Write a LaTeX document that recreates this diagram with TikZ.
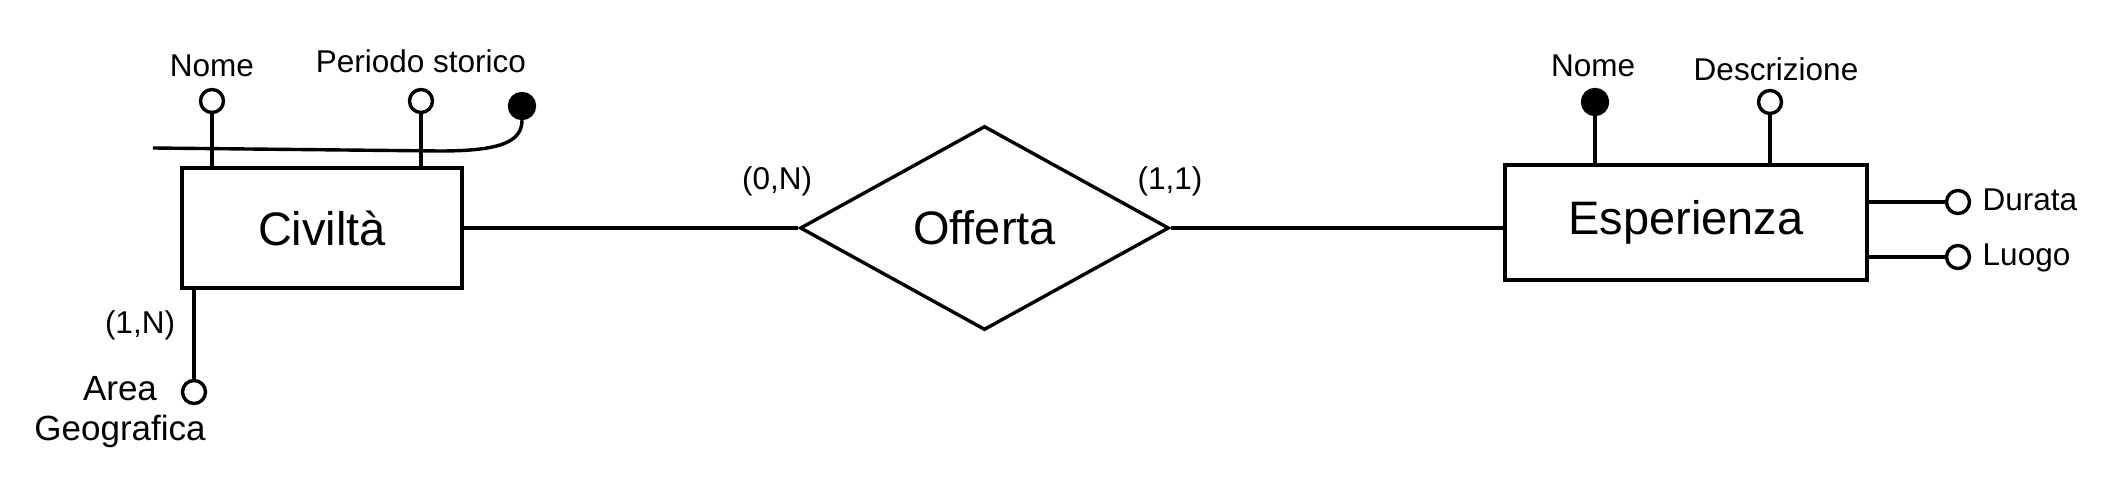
\documentclass[tikz,border=0pt]{standalone}
\usepackage{fontspec}
\setmainfont{Liberation Sans}
\usetikzlibrary{shapes.geometric,calc}
\begin{document}
\begin{tikzpicture}[x=1pt,y=-1pt,line width=3.4pt,
  entity/.style={draw,rectangle,fill=white,inner sep=0pt,font=\fontsize{47}{56}\selectfont},
  relation/.style={draw,diamond,fill=white,inner sep=0pt,font=\fontsize{47}{56}\selectfont},
  attro/.style={draw,circle,fill=white,minimum size=23pt,inner sep=0pt},
  attrf/.style={draw,circle,fill=black,minimum size=25pt,inner sep=0pt},
  lbl/.style={inner sep=0pt,text height=22.6pt,text depth=0pt,font=\fontsize{31.5}{38}\selectfont},
  biglbl/.style={inner sep=0pt,align=center,font=\fontsize{35}{40}\selectfont}]
\useasboundingbox (0,0) rectangle (2108,492);
% entities and relation
\node[entity,minimum width=280pt,minimum height=120pt] (civ) at (322,228) {Civiltà};
\node[entity,minimum width=362pt,minimum height=115pt] (esp) at (1686,222.5) {Esperienza};
\node[relation,minimum width=369pt,minimum height=204pt] (off) at (984.5,228) {Offerta};
\draw (civ.east) -- (off.west);
\draw (off.east) -- (off.east -| esp.west);
% Civilta attributes
\node[attro] (cnome) at (212,101) {};
\node[attro] (cper) at (421,101) {};
\node[attrf] (cid) at (522,106) {};
\node[attro] (carea) at (194,392) {};
\draw (cnome.south) -- (cnome.south |- civ.north);
\draw (cper.south) -- (cper.south |- civ.north);
\draw (carea.north) -- (carea.north |- civ.south);
\coordinate (cstart) at (153,148);
\coordinate (cbend) at (440,151);
\draw (cstart) -- (cbend) .. controls (500,151) and (522,142) .. (cid.south);
\node[lbl] (lnome1) at (212,65) {Nome};
\node[lbl] (lper) at (421,61) {Periodo storico};
\node[lbl] (lcard1) at (140,322) {(1,N)};
\node[biglbl] (larea) at (120,412) {Area\\Geografica};
% Esperienza attributes
\node[attrf] (enome) at (1595,102) {};
\node[attro] (edesc) at (1770,102) {};
\node[attro] (edur) at (1958,202) {};
\node[attro] (eluo) at (1958,257) {};
\draw (enome.south) -- (enome.south |- esp.north);
\draw (edesc.south) -- (edesc.south |- esp.north);
\draw (edur.west) -- (edur.west -| esp.east);
\draw (eluo.west) -- (eluo.west -| esp.east);
\node[lbl] (lnome2) at (1593,65) {Nome};
\node[lbl] (ldesc) at (1776,69) {Descrizione};
\node[lbl,anchor=west] (ldur) at (1981,199) {Durata};
\node[lbl,anchor=west] (lluo) at (1981,254) {Luogo};
% cardinalities
\node[lbl] (lcard2) at (777,178) {(0,N)};
\node[lbl] (lcard3) at (1170,178) {(1,1)};
\end{tikzpicture}
\end{document}
